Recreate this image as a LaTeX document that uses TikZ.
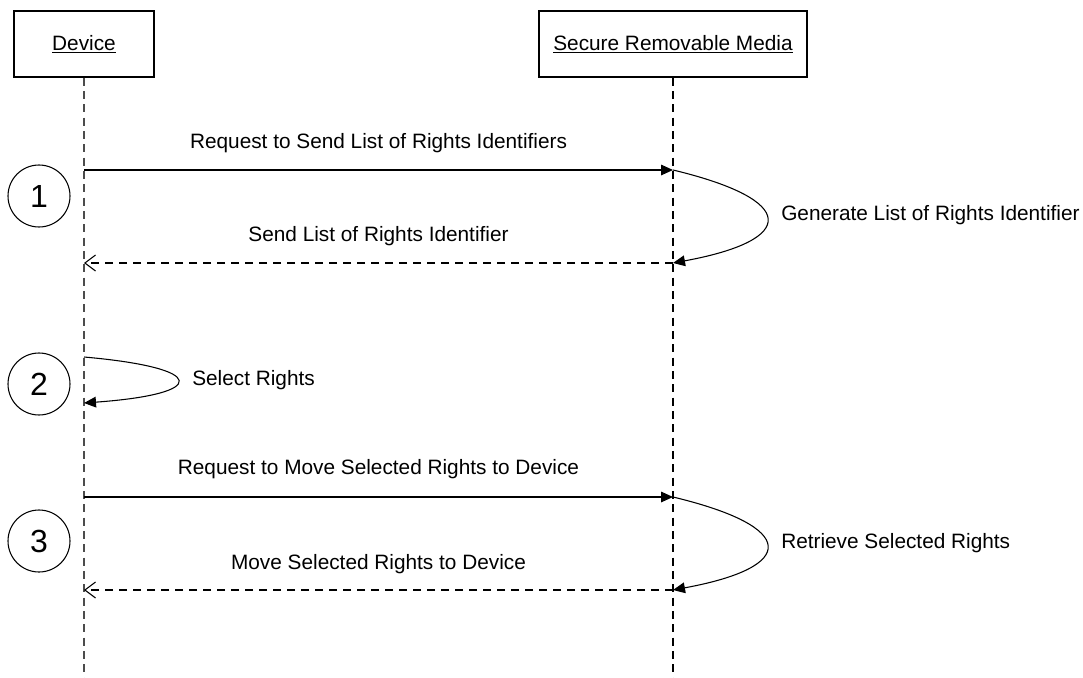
\documentclass[tikz,border=0pt]{standalone}
\usepackage{fontspec}
\setmainfont{Liberation Sans}
\usetikzlibrary{arrows.meta}
\begin{document}
\begin{tikzpicture}[x=0.75pt,y=-0.75pt,
  every node/.style={font=\fontsize{15.6pt}{18pt}\selectfont, inner sep=0pt},
  actor/.style={draw, line width=0.8pt, minimum width=140*0.75pt, minimum height=66*0.75pt},
  lifeline/.style={dash pattern=on 6pt off 4pt, line width=0.8pt, draw=black!70},
  call/.style={line width=0.8pt, -{Triangle[length=9pt,width=8pt]}},
  reply/.style={line width=0.8pt, dash pattern=on 6pt off 4.5pt, -{Straight Barb[length=8pt,width=12pt]}},
  self/.style={line width=0.8pt, -{Triangle[length=9pt,width=8pt]}},
  step num/.style={draw, circle, line width=0.8pt, minimum size=62*0.75pt, font=\fontsize{24pt}{28pt}\selectfont},
  msg/.style={anchor=base}]
\useasboundingbox (0,0) rectangle (1083,678);

% participants
\node[actor] (dev) at (84,44) {\underline{Device}};
\node[actor, minimum width=268*0.75pt] (srm) at (673,44) {\underline{Secure Removable Media}};
\coordinate (devEnd) at (84,678);
\coordinate (srmEnd) at (673,678);
\draw[lifeline] (dev.south) -- (devEnd);
\draw[lifeline, draw=black] (srm.south) -- (srmEnd);

% step markers
\node[step num] (s1) at (39,196) {1};
\node[step num] (s2) at (39,384) {2};
\node[step num] (s3) at (39,541) {3};

% step 1
\coordinate (a1) at (84,170);
\coordinate (b1) at (673,170);
\coordinate (b1r) at (673,263);
\coordinate (a1r) at (84,263);
\draw[call] (a1) -- (b1);
\node[msg] (m1) at (378.5,148) {Request to Send List of Rights Identifiers};
\draw[self] (b1) .. controls (798,200) and (798,240) .. (b1r);
\node[anchor=west] (g1) at (781,215) {Generate List of Rights Identifier};
\draw[reply] (b1r) -- (a1r);
\node[msg] (m2) at (378.5,241) {Send List of Rights Identifier};

% step 2
\coordinate (a2) at (84,357);
\coordinate (a2r) at (84,403);
\draw[self] (a2) .. controls (209,368) and (209,394) .. (a2r);
\node[anchor=west] (sel) at (192,380) {Select Rights};

% step 3
\coordinate (a3) at (84,497);
\coordinate (b3) at (673,497);
\coordinate (b3r) at (673,590);
\coordinate (a3r) at (84,590);
\draw[call] (a3) -- (b3);
\node[msg] (m3) at (378.5,474) {Request to Move Selected Rights to Device};
\draw[self] (b3) .. controls (798,527) and (798,567) .. (b3r);
\node[anchor=west] (ret) at (781,543) {Retrieve Selected Rights};
\draw[reply] (b3r) -- (a3r);
\node[msg] (m4) at (378.5,569) {Move Selected Rights to Device};
\end{tikzpicture}
\end{document}
